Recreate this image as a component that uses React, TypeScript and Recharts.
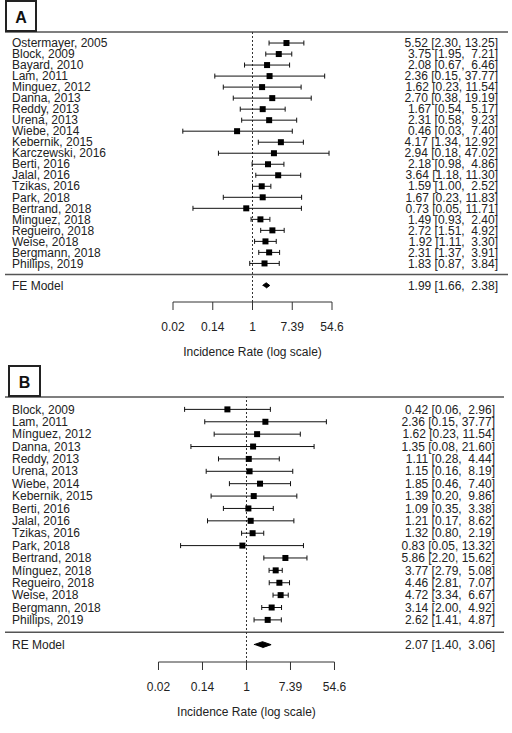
import React from 'react';
import { ComposedChart, Scatter, XAxis, YAxis, ReferenceLine, ErrorBar } from 'recharts';

// ---------- Panel A (fixed effects) ----------
const studiesA = [
  'Ostermayer, 2005', 'Block, 2009', 'Bayard, 2010', 'Lam, 2011', 'Minguez, 2012',
  'Danna, 2013', 'Reddy, 2013', 'Urena, 2013', 'Wiebe, 2014', 'Kebernik, 2015',
  'Karczewski, 2016', 'Berti, 2016', 'Jalal, 2016', 'Tzikas, 2016', 'Park, 2018',
  'Bertrand, 2018', 'Minguez, 2018', 'Regueiro, 2018', 'Weise, 2018', 'Bergmann, 2018',
  'Phillips, 2019',
];
const estA = [5.52, 3.75, 2.08, 2.36, 1.62, 2.70, 1.67, 2.31, 0.46, 4.17, 2.94, 2.18, 3.64, 1.59, 1.67, 0.73, 1.49, 2.72, 1.92, 2.31, 1.83];
const lowA = [2.30, 1.95, 0.67, 0.15, 0.23, 0.38, 0.54, 0.58, 0.03, 1.34, 0.18, 0.98, 1.18, 1.00, 0.23, 0.05, 0.93, 1.51, 1.11, 1.37, 0.87];
const highA = [13.25, 7.21, 6.46, 37.77, 11.54, 19.19, 5.17, 9.23, 7.40, 12.92, 47.02, 4.86, 11.30, 2.52, 11.83, 11.71, 2.40, 4.92, 3.30, 3.91, 3.84];
const modelLabelA = 'FE Model';
const modelA = [1.99, 1.66, 2.38]; // estimate, lower, upper

// ---------- Panel B (random effects) ----------
const studiesB = [
  'Block, 2009', 'Lam, 2011', 'Mínguez, 2012', 'Danna, 2013', 'Reddy, 2013',
  'Urena, 2013', 'Wiebe, 2014', 'Kebernik, 2015', 'Berti, 2016', 'Jalal, 2016',
  'Tzikas, 2016', 'Park, 2018', 'Bertrand, 2018', 'Mínguez, 2018', 'Regueiro, 2018',
  'Weise, 2018', 'Bergmann, 2018', 'Phillips, 2019',
];
const estB = [0.42, 2.36, 1.62, 1.35, 1.11, 1.15, 1.85, 1.39, 1.09, 1.21, 1.32, 0.83, 5.86, 3.77, 4.46, 4.72, 3.14, 2.62];
const lowB = [0.06, 0.15, 0.23, 0.08, 0.28, 0.16, 0.46, 0.20, 0.35, 0.17, 0.80, 0.05, 2.20, 2.79, 2.81, 3.34, 2.00, 1.41];
const highB = [2.96, 37.77, 11.54, 21.60, 4.44, 8.19, 7.40, 9.86, 3.38, 8.62, 2.19, 13.32, 15.62, 5.08, 7.07, 6.67, 4.92, 4.87];
const modelLabelB = 'RE Model';
const modelB = [2.07, 1.40, 3.06];

// ---------- shared axis ----------
const axisTicks = [-4, -2, 0, 2, 4]; // natural-log positions
const axisTickLabels = ['0.02', '0.14', '1', '7.39', '54.6'];
const axisTitle = 'Incidence Rate (log scale)';

const FONT = '"Liberation Sans", Arial, sans-serif';
const TEXT = '#222';

const fmt = (e: number, l: number, h: number) =>
  `${e.toFixed(2)} [${l.toFixed(2)}, ${h.toFixed(2).padStart(5, ' ')}]`;

type PanelProps = {
  letter: string;
  labels: string[];
  est: number[];
  low: number[];
  high: number[];
  modelLabel: string;
  model: number[];
  height: number;
  top: number;
  plotTop: number;
  plotBottom: number;
  xDomain: [number, number];
  yBottom: number;
  rightEdge: number;
  leftPad: number;
  rightPad: number;
  box: { left: number; top: number; width: number; height: number };
};

function Panel(props: PanelProps) {
  const { labels, est, low, high, modelLabel, model, height, top, plotTop, plotBottom, xDomain, yBottom, rightEdge, leftPad, rightPad, box, letter } = props;
  const n = labels.length;
  const modelRow = n + 1;
  const rows = labels.map((_, i) => ({
    y: i,
    x: Math.log(est[i]),
    err: [Math.log(est[i]) - Math.log(low[i]), Math.log(high[i]) - Math.log(est[i])],
  }));
  const half = 0.24;
  const diamond = [
    { x: Math.log(model[1]), y: modelRow },
    { x: Math.log(model[0]), y: modelRow - half },
    { x: Math.log(model[2]), y: modelRow },
    { x: Math.log(model[0]), y: modelRow + half },
  ];
  const yTicks = [...labels.map((_, i) => i), modelRow];
  const leftText = (v: number) => (v === modelRow ? modelLabel : labels[v]);
  const rightText = (v: number) =>
    v === modelRow ? fmt(model[0], model[1], model[2]) : fmt(est[v], low[v], high[v]);

  const LeftTick = (p: any) => (
    <text x={p.x + leftPad} y={p.y} dy="0.35em" textAnchor="start" fontFamily={FONT} fontSize={12} fill={TEXT}>
      {leftText(p.payload.value)}
    </text>
  );
  const RightTick = (p: any) => (
    <text x={p.x - rightPad} y={p.y} dy="0.35em" textAnchor="end" fontFamily={FONT} fontSize={12} fill={TEXT} style={{ whiteSpace: 'pre' }}>
      {rightText(p.payload.value)}
    </text>
  );
  const XTick = (p: any) => {
    const idx = axisTicks.indexOf(p.payload.value);
    return (
      <g>
        <text x={p.x} y={p.y + 15} dy="0.35em" textAnchor="middle" fontFamily={FONT} fontSize={12} fill={TEXT}>
          {axisTickLabels[idx]}
        </text>
        {p.payload.value === 0 && (
          <text x={p.x} y={p.y + 39.5} dy="0.35em" textAnchor="middle" fontFamily={FONT} fontSize={12} fill={TEXT}>
            {axisTitle}
          </text>
        )}
      </g>
    );
  };

  return (
    <div style={{ position: 'absolute', left: 0, top, width: 512, height }}>
      <ComposedChart
        width={512}
        height={height}
        margin={{ top: plotTop, right: 512 - rightEdge, bottom: 0, left: 5 }}
      >
        <XAxis
          type="number"
          dataKey="x"
          domain={xDomain}
          allowDataOverflow
          ticks={axisTicks}
          interval={0}
          axisLine={false}
          tickLine={{ stroke: '#333', strokeWidth: 1 }}
          tickSize={8}
          tick={<XTick />}
          height={height - plotBottom}
        />
        <YAxis yAxisId="l" type="number" dataKey="y" domain={[-1, yBottom]} reversed allowDataOverflow ticks={yTicks} interval={0} mirror axisLine={false} tickLine={false} tickSize={0} tickMargin={0} tick={<LeftTick />} />
        <YAxis yAxisId="r" orientation="right" type="number" dataKey="y" domain={[-1, yBottom]} reversed allowDataOverflow ticks={yTicks} interval={0} mirror axisLine={false} tickLine={false} tickSize={0} tickMargin={0} tick={<RightTick />} />
        <ReferenceLine yAxisId="l" y={-1} stroke="#555" strokeWidth={1.5} ifOverflow="visible" />
        <ReferenceLine yAxisId="l" y={n} stroke="#555" strokeWidth={1.5} ifOverflow="visible" />
        <ReferenceLine yAxisId="l" x={0} stroke="#333" strokeWidth={1} strokeDasharray="2 2" ifOverflow="visible" />
        <ReferenceLine
          yAxisId="l"
          segment={[{ x: axisTicks[0], y: yBottom }, { x: axisTicks[axisTicks.length - 1], y: yBottom }]}
          stroke="#333"
          strokeWidth={1}
          ifOverflow="visible"
        />
        <Scatter
          yAxisId="l"
          data={rows}
          isAnimationActive={false}
          shape={(s: any) => <rect x={s.cx - 3} y={s.cy - 3} width={6} height={6} fill="#000" />}
        >
          <ErrorBar dataKey="err" direction="x" width={2.5} stroke="#111" strokeWidth={1} isAnimationActive={false} />
        </Scatter>
        <Scatter
          yAxisId="l"
          data={diamond}
          isAnimationActive={false}
          line={{ fill: '#000', stroke: '#000', strokeWidth: 1 }}
          lineType="joint"
          shape={() => <g />}
        />
      </ComposedChart>
      <div
        style={{
          position: 'absolute',
          left: box.left,
          top: box.top,
          width: box.width,
          height: box.height,
          boxSizing: 'border-box',
          border: '2px solid #222',
          fontFamily: FONT,
          fontWeight: 'bold',
          fontSize: 16,
          color: '#111',
          display: 'flex',
          alignItems: 'center',
          justifyContent: 'center',
          paddingTop: 3,
          background: 'transparent',
        }}
      >
        {letter}
      </div>
    </div>
  );
}

export default function App() {
  return (
    <div style={{ position: 'absolute', left: 0, top: 0, width: 512, height: 733, background: '#fff' }}>
      <Panel
        letter="A"
        labels={studiesA}
        est={estA}
        low={lowA}
        high={highA}
        modelLabel={modelLabelA}
        model={modelA}
        height={360}
        top={0}
        plotTop={32}
        plotBottom={302}
        xDomain={[-12.453, 12.855]}
        yBottom={23.5}
        rightEdge={508}
        leftPad={7}
        rightPad={10}
        box={{ left: 5, top: 0, width: 32, height: 32 }}
      />
      <Panel
        letter="B"
        labels={studiesB}
        est={estB}
        low={lowB}
        high={highB}
        modelLabel={modelLabelB}
        model={modelB}
        height={373}
        top={360}
        plotTop={37}
        plotBottom={302}
        xDomain={[-10.977, 11.705]}
        yBottom={20.4}
        rightEdge={504}
        leftPad={7}
        rightPad={9}
        box={{ left: 8, top: 5, width: 33, height: 32 }}
      />
    </div>
  );
}
